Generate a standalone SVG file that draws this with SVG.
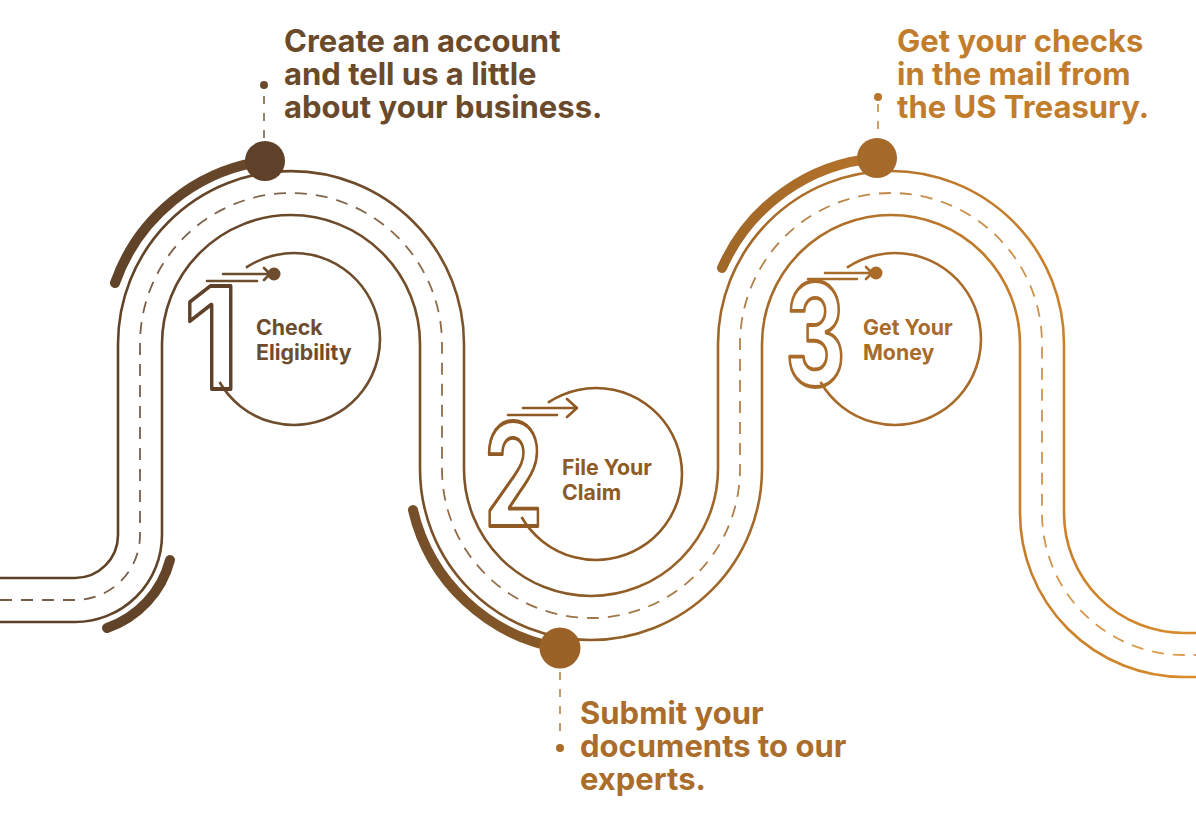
<svg xmlns="http://www.w3.org/2000/svg" width="1196" height="829" viewBox="0 0 1196 829">
<style>
.road{fill:none;stroke:url(#g);stroke-width:2.6}
.dash{fill:none;stroke:url(#g);stroke-width:1.8;stroke-dasharray:12 9;opacity:.85}
.thick{fill:none;stroke:url(#g);stroke-width:10;stroke-linecap:round}
.ring{fill:none;stroke-width:2.6}
.arr{fill:none;stroke-width:2.6;stroke-linecap:round;stroke-linejoin:round}
.lead{fill:none;stroke-width:2;stroke-dasharray:8 9;opacity:.7}
.big{font-family:Inter,"Liberation Sans",sans-serif;font-weight:700;font-size:31px}
.lbl{font-family:Inter,"Liberation Sans",sans-serif;font-weight:700;font-size:21.3px}
.num{font-family:Inter,"Liberation Sans",sans-serif;font-weight:700;font-size:142px;fill:none;stroke-width:3.8;stroke-linejoin:round}
</style>
<defs>
<linearGradient id="g" gradientUnits="userSpaceOnUse" x1="0" y1="0" x2="1196" y2="0">
<stop offset="0" stop-color="#5a3f27"/>
<stop offset="0.3" stop-color="#6e4b2b"/>
<stop offset="0.5" stop-color="#8f5d27"/>
<stop offset="0.75" stop-color="#b8752a"/>
<stop offset="1" stop-color="#da8b2c"/>
</linearGradient>
</defs>
<rect width="1196" height="829" fill="#ffffff"/>
<g id="connectors">
<path class="road" d="M0 578 H75 A43 43 0 0 0 118 535 V344 A173 173 0 0 1 464 344 V469 A127 127 0 0 0 718 469 V344 A173 173 0 0 1 1064 344 V513 A120 120 0 0 0 1184 633 H1196"/>
<path class="road" d="M0 622 H75 A87 87 0 0 0 162 535 V344 A129 129 0 0 1 420 344 V469 A171 171 0 0 0 762 469 V344 A129 129 0 0 1 1020 344 V513 A164 164 0 0 0 1184 677 H1196"/>
<path class="dash" d="M0 600 H75 A65 65 0 0 0 140 535 V344 A151 151 0 0 1 442 344 V469 A149 149 0 0 0 740 469 V344 A151 151 0 0 1 1042 344 V513 A142 142 0 0 0 1184 655 H1196"/>
<path class="thick" d="M107 628 A98 98 0 0 0 170 560"/>
<path class="thick" d="M115 283 A185 185 0 0 1 265 161"/>
<path class="thick" d="M413 510 A182 182 0 0 0 560 648"/>
<path class="thick" d="M722 268 A186 186 0 0 1 877 158"/>
<path class="lead" stroke="#6a4a2b" d="M264 96 V142"/>
<path class="lead" stroke="#a86d2a" d="M560 672 V740"/>
<path class="lead" stroke="#b8762b" d="M878 104 V142"/>
</g>
<g id="step1">
<circle cx="265" cy="161" r="20" fill="#5e4128"/>
<circle cx="264" cy="85" r="4" fill="#6a4a2b"/>
<text class="big" fill="#6a4a2b"><tspan x="284" y="52">Create an account</tspan><tspan x="284" y="85">and tell us a little</tspan><tspan x="284" y="118">about your business.</tspan></text>
<path class="ring" stroke="#6d4d2d" d="M245.9 267.7 A86 86 0 1 1 219.5 382"/>
<g stroke="#6d4d2d"><path class="arr" d="M223 274 H268 M207 281 H257 M264 268 L270 274 L264 280"/></g>
<circle cx="274" cy="274" r="6.5" fill="#6d4d2d"/>
<text class="num" stroke="#5e4128" transform="translate(184 389) scale(0.9 1)">1</text>
<text class="lbl" fill="#6d4d2d"><tspan x="256" y="335">Check</tspan><tspan x="256" y="360">Eligibility</tspan></text>
</g>
<g id="step2">
<circle cx="560" cy="648" r="20.5" fill="#9b6227"/>
<circle cx="560" cy="748" r="4" fill="#a86d2a"/>
<text class="big" fill="#aa6d2b"><tspan x="580" y="724">Submit your</tspan><tspan x="580" y="757">documents to our</tspan><tspan x="580" y="790">experts.</tspan></text>
<path class="ring" stroke="#8f5a23" d="M547.9 402.7 A86 86 0 1 1 521.5 517"/>
<g stroke="#8f5a23"><path class="arr" d="M523 408 H577 M508 415 H557 M567 399 L577 408 L567 417"/></g>
<text class="num" stroke="#8f5a23" transform="translate(484 526) scale(0.66 1)">2</text>
<text class="lbl" fill="#8f5a23"><tspan x="562" y="475">File Your</tspan><tspan x="562" y="500">Claim</tspan></text>
</g>
<g id="step3">
<circle cx="877" cy="158" r="20" fill="#a5692a"/>
<circle cx="878" cy="97" r="4" fill="#b8762b"/>
<text class="big" fill="#c27d2c"><tspan x="897" y="52">Get your checks</tspan><tspan x="897" y="85">in the mail from</tspan><tspan x="897" y="118">the US Treasury.</tspan></text>
<path class="ring" stroke="#a96b2a" d="M846.9 267.7 A86 86 0 1 1 820.5 382"/>
<g stroke="#a96b2a"><path class="arr" d="M825 273 H870 M808 279 H857 M866 267 L872 273 L866 279"/></g>
<circle cx="876" cy="273" r="6.5" fill="#a96b2a"/>
<text class="num" stroke="#a96b2a" transform="translate(785 386) scale(0.66 1)">3</text>
<text class="lbl" fill="#a96b2a"><tspan x="863" y="335">Get Your</tspan><tspan x="863" y="360">Money</tspan></text>
</g>
</svg>
